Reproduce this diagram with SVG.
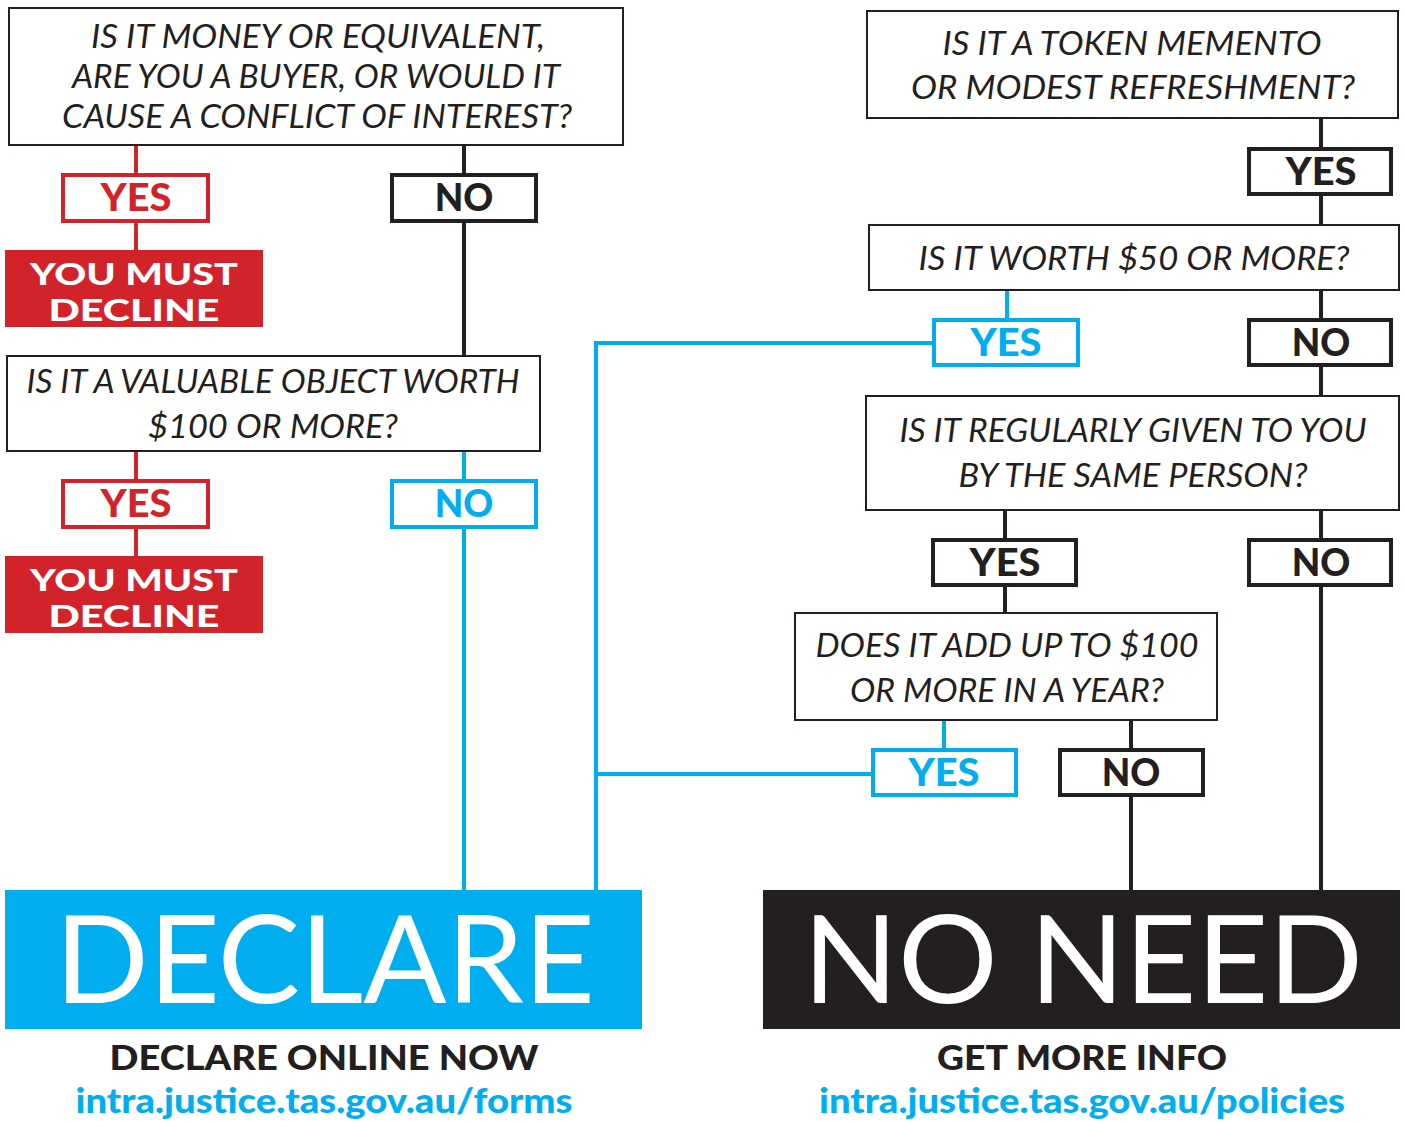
<svg xmlns="http://www.w3.org/2000/svg" width="1405" height="1122" viewBox="0 0 1405 1122">
<style>
.q{fill:#fff;stroke:#231f20;stroke-width:2}
.qt{font-family:Lato,"Open Sans",sans-serif;font-style:italic;font-size:33px;fill:#231f20;text-anchor:middle}
.lb{fill:#fff;stroke-width:4}
.lt{font-family:Lato,"Open Sans",sans-serif;font-weight:900;font-size:37px;text-anchor:middle}
.k{stroke:#231f20}.r{stroke:#d2232a}.b{stroke:#00aeef}
.kf{fill:#231f20}.rf{fill:#d2232a}.bf{fill:#00aeef}
.c{fill:none;stroke-width:4}
.dt{font-family:Lato,"Open Sans",sans-serif;font-weight:900;font-size:30px;fill:#fff;text-anchor:middle}
.big{font-family:Lato,"Open Sans",sans-serif;font-size:122px;fill:#fff;text-anchor:middle}
.ft{font-family:Lato,"Open Sans",sans-serif;font-weight:900;font-size:34px;text-anchor:middle}
</style>
<rect width="1405" height="1122" fill="#fff"/>
<g id="connectors" class="c">
<path class="r" d="M136 145V173M136 223V250M136 451V479M136 529V556"/>
<path class="k" d="M464 145V173M464 223V355"/>
<path class="b" d="M464 451V479M464 529V890"/>
<path class="b" d="M932 343H596V890M596 774H871M1007 290V318M944 720V748"/>
<path class="k" d="M1321 118V147M1321 196V224M1321 290V318M1321 367V395M1005 510V538M1005 587V612M1321 510V538M1321 587V890M1131 720V748M1131 797V890"/>
</g>
<g id="q1"><rect class="q" x="9" y="8" width="614" height="137"/>
<text class="qt" x="318" y="48" textLength="454" lengthAdjust="spacingAndGlyphs">IS IT MONEY OR EQUIVALENT,</text>
<text class="qt" x="316" y="88" textLength="488" lengthAdjust="spacingAndGlyphs">ARE YOU A BUYER, OR WOULD IT</text>
<text class="qt" x="317" y="128" textLength="510" lengthAdjust="spacingAndGlyphs">CAUSE A CONFLICT OF INTEREST?</text></g>
<g id="q1yes"><rect class="lb r" x="63" y="175" width="145" height="46"/><text class="lt rf" x="136" y="211" textLength="71" lengthAdjust="spacingAndGlyphs">YES</text></g>
<g id="d1"><rect class="rf" x="5" y="250" width="258" height="77"/><text class="dt" x="134" y="285" textLength="208" lengthAdjust="spacingAndGlyphs">YOU MUST</text><text class="dt" x="134" y="321" textLength="171" lengthAdjust="spacingAndGlyphs">DECLINE</text></g>
<g id="q1no"><rect class="lb k" x="392" y="175" width="144" height="46"/><text class="lt kf" x="464" y="211">NO</text></g>
<g id="q2"><rect class="q" x="7" y="356" width="533" height="95"/>
<text class="qt" x="273" y="393" textLength="493" lengthAdjust="spacingAndGlyphs">IS IT A VALUABLE OBJECT WORTH</text>
<text class="qt" x="273" y="438" textLength="250" lengthAdjust="spacingAndGlyphs">$100 OR MORE?</text></g>
<g id="q2yes"><rect class="lb r" x="63" y="481" width="145" height="46"/><text class="lt rf" x="136" y="517" textLength="71" lengthAdjust="spacingAndGlyphs">YES</text></g>
<g id="d2"><rect class="rf" x="5" y="556" width="258" height="77"/><text class="dt" x="134" y="591" textLength="208" lengthAdjust="spacingAndGlyphs">YOU MUST</text><text class="dt" x="134" y="627" textLength="171" lengthAdjust="spacingAndGlyphs">DECLINE</text></g>
<g id="q2no"><rect class="lb b" x="392" y="481" width="144" height="46"/><text class="lt bf" x="464" y="517">NO</text></g>
<g id="qa"><rect class="q" x="867" y="11" width="531" height="107"/>
<text class="qt" x="1132" y="55" textLength="379" lengthAdjust="spacingAndGlyphs">IS IT A TOKEN MEMENTO</text>
<text class="qt" x="1133" y="99" textLength="444" lengthAdjust="spacingAndGlyphs">OR MODEST REFRESHMENT?</text></g>
<g id="qayes"><rect class="lb k" x="1249" y="149" width="142" height="45"/><text class="lt kf" x="1321" y="185" textLength="71" lengthAdjust="spacingAndGlyphs">YES</text></g>
<g id="qb"><rect class="q" x="869" y="225" width="530" height="65"/>
<text class="qt" x="1134" y="270" textLength="431" lengthAdjust="spacingAndGlyphs">IS IT WORTH $50 OR MORE?</text></g>
<g id="qbyes"><rect class="lb b" x="934" y="320" width="144" height="45"/><text class="lt bf" x="1006" y="356" textLength="71" lengthAdjust="spacingAndGlyphs">YES</text></g>
<g id="qbno"><rect class="lb k" x="1249" y="320" width="142" height="45"/><text class="lt kf" x="1321" y="356">NO</text></g>
<g id="qc"><rect class="q" x="866" y="396" width="533" height="114"/>
<text class="qt" x="1133" y="442" textLength="467" lengthAdjust="spacingAndGlyphs">IS IT REGULARLY GIVEN TO YOU</text>
<text class="qt" x="1133" y="487" textLength="349" lengthAdjust="spacingAndGlyphs">BY THE SAME PERSON?</text></g>
<g id="qcyes"><rect class="lb k" x="933" y="540" width="143" height="45"/><text class="lt kf" x="1005" y="576" textLength="71" lengthAdjust="spacingAndGlyphs">YES</text></g>
<g id="qcno"><rect class="lb k" x="1249" y="540" width="142" height="45"/><text class="lt kf" x="1321" y="576">NO</text></g>
<g id="qd"><rect class="q" x="795" y="613" width="422" height="107"/>
<text class="qt" x="1007" y="657" textLength="383" lengthAdjust="spacingAndGlyphs">DOES IT ADD UP TO $100</text>
<text class="qt" x="1007" y="702" textLength="314" lengthAdjust="spacingAndGlyphs">OR MORE IN A YEAR?</text></g>
<g id="qdyes"><rect class="lb b" x="873" y="750" width="143" height="45"/><text class="lt bf" x="944" y="786" textLength="71" lengthAdjust="spacingAndGlyphs">YES</text></g>
<g id="qdno"><rect class="lb k" x="1060" y="750" width="143" height="45"/><text class="lt kf" x="1131" y="786">NO</text></g>
<g id="declare"><rect class="bf" x="5" y="890" width="637" height="139"/>
<text class="big" x="325" y="1003" textLength="540" lengthAdjust="spacingAndGlyphs">DECLARE</text>
<text class="ft kf" x="324" y="1070" textLength="429" lengthAdjust="spacingAndGlyphs">DECLARE ONLINE NOW</text>
<text class="ft bf" x="324" y="1113" textLength="497" lengthAdjust="spacingAndGlyphs">intra.justice.tas.gov.au/forms</text></g>
<g id="noneed"><rect class="kf" x="763" y="890" width="637" height="139"/>
<text class="big" x="1083" y="1003" textLength="560" lengthAdjust="spacingAndGlyphs">NO NEED</text>
<text class="ft kf" x="1082" y="1070" textLength="290" lengthAdjust="spacingAndGlyphs">GET MORE INFO</text>
<text class="ft bf" x="1082" y="1113" textLength="526" lengthAdjust="spacingAndGlyphs">intra.justice.tas.gov.au/policies</text></g>
</svg>
